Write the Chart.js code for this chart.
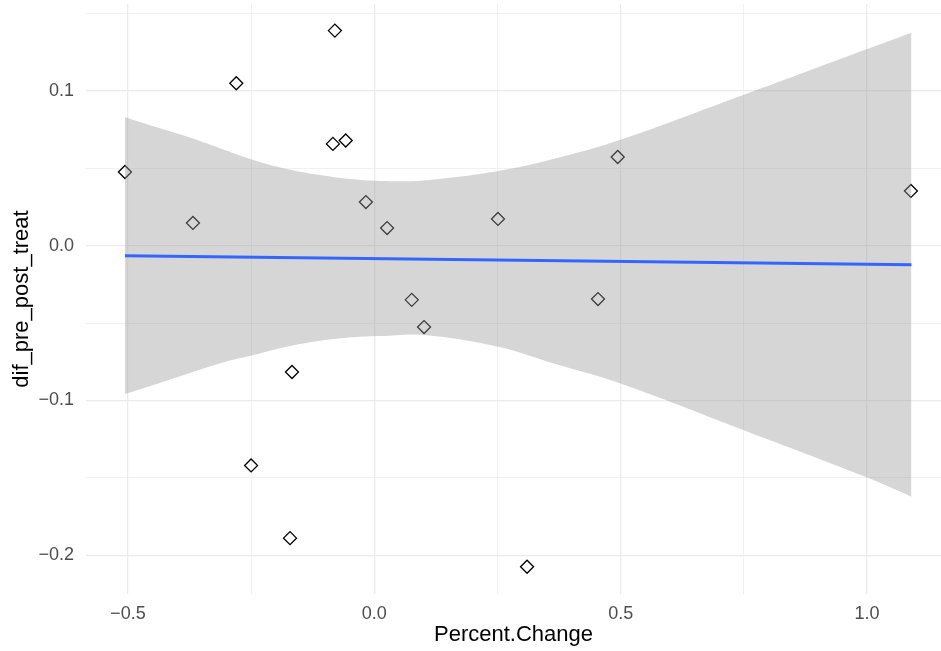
<!DOCTYPE html>
<html>
<head>
<meta charset="utf-8">
<script src="https://cdn.jsdelivr.net/npm/chart.js@4.4.1/dist/chart.umd.min.js"></script>
<style>
  html, body { margin: 0; padding: 0; background: #fff; }
  #wrap { width: 941px; height: 651px; }
</style>
</head>
<body>
<div id="wrap"><canvas id="scatterChart"></canvas></div>
<script>
// observed points
const percentChange = [-0.506, -0.368, -0.280, -0.080, -0.084, -0.058, -0.017, 0.026, 0.076,
    0.101, 0.251, 0.494, 0.454, 1.089, -0.167, -0.250, -0.171, 0.310];
const difPrePost = [0.0476, 0.0147, 0.105, 0.139, 0.0658, 0.068, 0.0282, 0.0114, -0.035,
    -0.0526, 0.0173, 0.0573, -0.0345, 0.0354, -0.0816, -0.142, -0.189, -0.2075];

// lm fit and its 95% band
const fitX = [-0.506, 1.090];
const fitY = [-0.0065, -0.0123];
const bandX = [-0.506, -0.448, -0.3805, -0.313, -0.2454, -0.1777, -0.110, -0.0426, 0.0116,
    0.100, 0.2515, 0.363, 0.498, 0.7485, 0.999, 1.090];
const bandUpper = [0.0830, 0.0772, 0.0705, 0.0630, 0.0554, 0.0496, 0.0457, 0.0429, 0.0418,
    0.0422, 0.0483, 0.0560, 0.0683, 0.0974, 0.1270, 0.1377];
const bandLower = [-0.0959, -0.0900, -0.0829, -0.0760, -0.0707, -0.0653, -0.0614, -0.0592, -0.0584,
    -0.0577, -0.0653, -0.0760, -0.0889, -0.1191, -0.1497, -0.1622];

// axis breaks (empty label = minor grid line)
const xBreaks = [-0.5, -0.25, 0, 0.25, 0.5, 0.75, 1.0];
const xLabels = ['\u22120.5', '', '0.0', '', '0.5', '', '1.0'];
const yBreaks = [-0.2, -0.15, -0.1, -0.05, 0, 0.05, 0.1, 0.15];
const yLabels = ['\u22120.2', '', '\u22120.1', '', '0.0', '', '0.1', ''];

const toXY = (xs, ys) => xs.map((x, i) => ({ x: x, y: ys[i] }));

function gridWidth(breaks, labels) {
    return (c) => {
        const i = breaks.indexOf(c.tick ? c.tick.value : NaN);
        return i >= 0 && labels[i] === '' ? 0.7 : 1.3;
    };
}

const ctx = document.getElementById('scatterChart').getContext('2d');

new Chart(ctx, {
    type: 'scatter',
    data: {
        datasets: [
            {
                label: 'lower',
                type: 'line',
                data: toXY(bandX, bandLower),
                borderWidth: 0,
                pointRadius: 0,
                tension: 0.4,
                fill: false,
                order: 2
            },
            {
                label: 'upper',
                type: 'line',
                data: toXY(bandX, bandUpper),
                borderWidth: 0,
                pointRadius: 0,
                tension: 0.4,
                fill: { target: 0 },
                backgroundColor: 'rgba(153, 153, 153, 0.4)',
                order: 1
            },
            {
                label: 'fit',
                type: 'line',
                data: toXY(fitX, fitY),
                borderColor: '#3366FF',
                borderWidth: 3,
                pointRadius: 0,
                fill: false,
                order: 0
            },
            {
                label: 'points',
                data: toXY(percentChange, difPrePost),
                pointStyle: 'rectRot',
                pointRadius: 6.5,
                pointBorderWidth: 1.3,
                pointBorderColor: '#000000',
                pointBackgroundColor: 'rgba(0,0,0,0)',
                order: 3
            }
        ]
    },
    options: {
        responsive: true,
        maintainAspectRatio: false,
        animation: false,
        layout: { autoPadding: false, padding: { top: 4, right: 0, left: 0, bottom: 0 } },
        scales: {
            x: {
                type: 'linear',
                min: -0.585,
                max: 1.15,
                afterBuildTicks: (s) => { s.ticks = xBreaks.map(v => ({ value: v })); },
                afterFit: (s) => { s.height = 57; s.paddingLeft = 0; s.paddingRight = 0; },
                border: { display: false },
                grid: { color: '#EBEBEB', lineWidth: gridWidth(xBreaks, xLabels), drawTicks: false },
                ticks: {
                    padding: 9,
                    color: '#4D4D4D',
                    font: { family: 'Liberation Sans', size: 18 },
                    maxRotation: 0,
                    autoSkip: false,
                    callback: (v) => xLabels[xBreaks.indexOf(v)] || ''
                },
                title: {
                    display: true,
                    text: 'Percent.Change',
                    color: '#000000',
                    font: { family: 'Liberation Sans', size: 22 },
                    padding: { top: 0, bottom: 3 }
                }
            },
            y: {
                type: 'linear',
                min: -0.2251,
                max: 0.1562,
                afterBuildTicks: (s) => { s.ticks = yBreaks.map(v => ({ value: v })); },
                afterFit: (s) => { s.width = 86; s.paddingTop = 0; s.paddingBottom = 0; },
                border: { display: false },
                grid: { color: '#EBEBEB', lineWidth: gridWidth(yBreaks, yLabels), drawTicks: false },
                ticks: {
                    padding: 12,
                    color: '#4D4D4D',
                    font: { family: 'Liberation Sans', size: 18 },
                    autoSkip: false,
                    callback: (v) => yLabels[yBreaks.indexOf(v)] || ''
                },
                title: {
                    display: true,
                    text: 'dif_pre_post_treat',
                    color: '#000000',
                    font: { family: 'Liberation Sans', size: 22 },
                    padding: { top: 9, bottom: 0 }
                }
            }
        },
        plugins: {
            legend: { display: false },
            tooltip: { enabled: false }
        }
    }
});
</script>
</body>
</html>
